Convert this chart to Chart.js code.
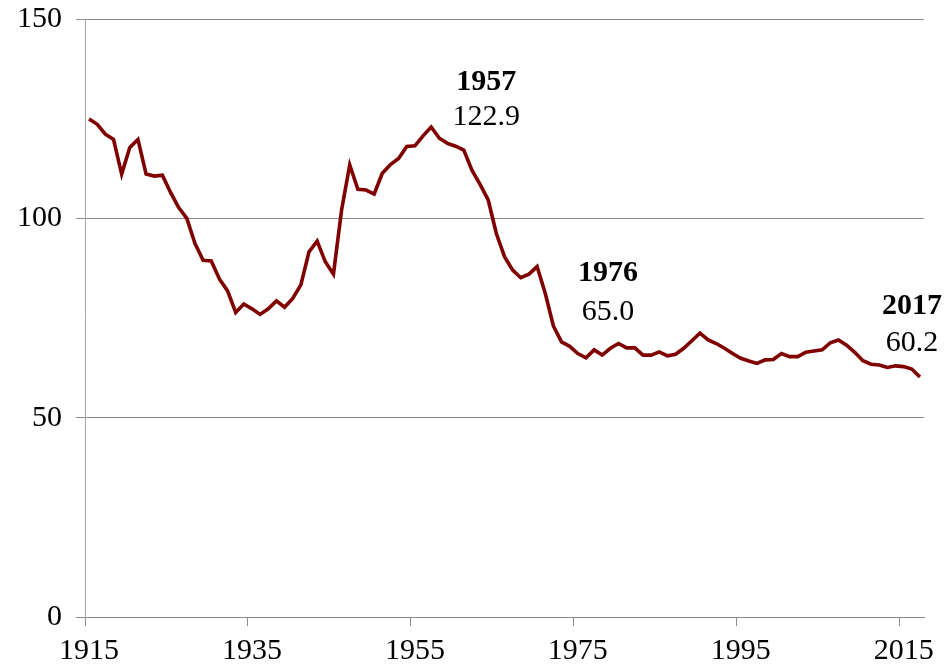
<!DOCTYPE html>
<html>
<head>
<meta charset="utf-8">
<title>Series 1915-2017</title>
<script src="https://cdn.jsdelivr.net/npm/chart.js@4/dist/chart.umd.min.js"></script>
<style>
  html, body { margin:0; padding:0; background:#fff; }
  #wrap { width:947px; height:670px; position:relative; }
</style>
</head>
<body>
<div id="wrap"><canvas id="chart"></canvas></div>
<script>
/* global Chart */
(() => {
  'use strict';

  // === Data ===
  const years = [
    1915,1916,1917,1918,1919,1920,1921,1922,1923,1924,
    1925,1926,1927,1928,1929,1930,1931,1932,1933,1934,
    1935,1936,1937,1938,1939,1940,1941,1942,1943,1944,
    1945,1946,1947,1948,1949,1950,1951,1952,1953,1954,
    1955,1956,1957,1958,1959,1960,1961,1962,1963,1964,
    1965,1966,1967,1968,1969,1970,1971,1972,1973,1974,
    1975,1976,1977,1978,1979,1980,1981,1982,1983,1984,
    1985,1986,1987,1988,1989,1990,1991,1992,1993,1994,
    1995,1996,1997,1998,1999,2000,2001,2002,2003,2004,
    2005,2006,2007,2008,2009,2010,2011,2012,2013,2014,
    2015,2016,2017
  ];
  const values = [
    124.9,123.6,121.1,119.8,111.1,117.8,119.8,111.1,110.6,110.8,
    106.5,102.7,100.0, 93.7, 89.5, 89.3, 84.8, 81.8, 76.4, 78.5,
     77.3, 75.9, 77.3, 79.3, 77.7, 79.9, 83.3, 91.6, 94.3, 89.1,
     86.0,102.1,113.4,107.3,107.1,106.1,111.3,113.5,115.0,118.0,
    118.2,120.7,122.9,120.1,118.8,118.1,117.1,112.1,108.5,104.6,
     96.2, 90.4, 87.0, 85.1, 86.0, 87.9, 81.2, 73.0, 69.0, 67.9,
     66.1, 65.0, 67.0, 65.7, 67.4, 68.6, 67.5, 67.5, 65.7, 65.7,
     66.5, 65.5, 65.9, 67.4, 69.3, 71.2, 69.5, 68.6, 67.4, 66.1,
     64.9, 64.2, 63.6, 64.5, 64.6, 66.1, 65.3, 65.3, 66.4, 66.7,
     67.0, 68.8, 69.5, 68.2, 66.4, 64.3, 63.4, 63.2, 62.6, 63.0,
     62.8, 62.2, 60.2
  ];
  const yTicks = [0, 50, 100, 150];
  const labelEvery = 20;           // show 1915, 1935, ... 2015
  const markedYears = [1957, 1976, 2017];

  // label offsets from the marked point (px): [dx, dyYear, dyValue]
  const markOffsets = [[55, -45, -10], [22, -85, -46], [-8, -71, -34]];

  const FONT = "'Liberation Serif', 'Times New Roman', serif";
  const LINE = "#800000";
  const GRID = "#8c8c8c";
  const AXIS = "#a6a6a6";

  // Year + value labels next to chosen points
  const markPlugin = {
    id: 'marks',
    afterDatasetsDraw(chart){
      const {ctx, scales:{x, y}} = chart;
      ctx.save();
      ctx.fillStyle = "#000";
      ctx.textAlign = "center";
      ctx.textBaseline = "middle";
      markedYears.forEach((yr, k)=>{
        const i = years.indexOf(yr);
        if(i < 0) return;
        const px = x.getPixelForValue(i);
        const py = y.getPixelForValue(values[i]);
        const [dx, dy1, dy2] = markOffsets[k];
        ctx.font = `bold 30px ${FONT}`;
        ctx.fillText(String(yr), px + dx, py + dy1);
        ctx.font = `30px ${FONT}`;
        ctx.fillText(values[i].toFixed(1), px + dx, py + dy2);
      });
      ctx.restore();
    }
  };

  new Chart(document.getElementById('chart').getContext('2d'), {
    type: 'line',
    data: {
      labels: years.map(String),
      datasets: [{
        data: values,
        borderColor: LINE,
        borderWidth: 3.6,
        pointRadius: 0,
        tension: 0,
        fill: false
      }]
    },
    options: {
      responsive: true,
      maintainAspectRatio: false,
      animation: false,
      devicePixelRatio: 1,
      layout: { padding: { top: 19, right: 23, bottom: 0, left: 0 } },
      plugins: { legend: { display:false }, tooltip: { enabled:false } },
      scales: {
        x: {
          type: 'category',
          offset: true,
          afterFit: (s)=>{ s.height = 53; s.paddingLeft = 0; s.paddingRight = 0; },
          border: { display:true, color: GRID, width: 1 },
          grid: {
            offset: true,
            drawOnChartArea: false,
            drawTicks: true,
            tickLength: 9,
            color: (c)=> (c.index % labelEvery === 0 && c.index < years.length) ? GRID : 'rgba(0,0,0,0)'
          },
          ticks: {
            autoSkip: false,
            maxRotation: 0,
            padding: 7,
            color: "#000",
            font: { family: FONT, size: 30 },
            callback: (v, i)=> (i % labelEvery === 0) ? years[i] : ''
          }
        },
        y: {
          min: yTicks[0],
          max: yTicks[yTicks.length - 1],
          afterFit: (s)=>{ s.width = 85; s.paddingTop = 0; s.paddingBottom = 0; },
          afterBuildTicks: (s)=>{ s.ticks = yTicks.map(v=>({ value:v })); },
          border: { display:true, color: AXIS, width: 1 },
          grid: { color: GRID, lineWidth: 1, drawTicks: true, tickLength: 9 },
          ticks: {
            padding: 14,
            color: "#000",
            font: { family: FONT, size: 30 }
          }
        }
      }
    },
    plugins: [markPlugin]
  });
})();
</script>
</body>
</html>
